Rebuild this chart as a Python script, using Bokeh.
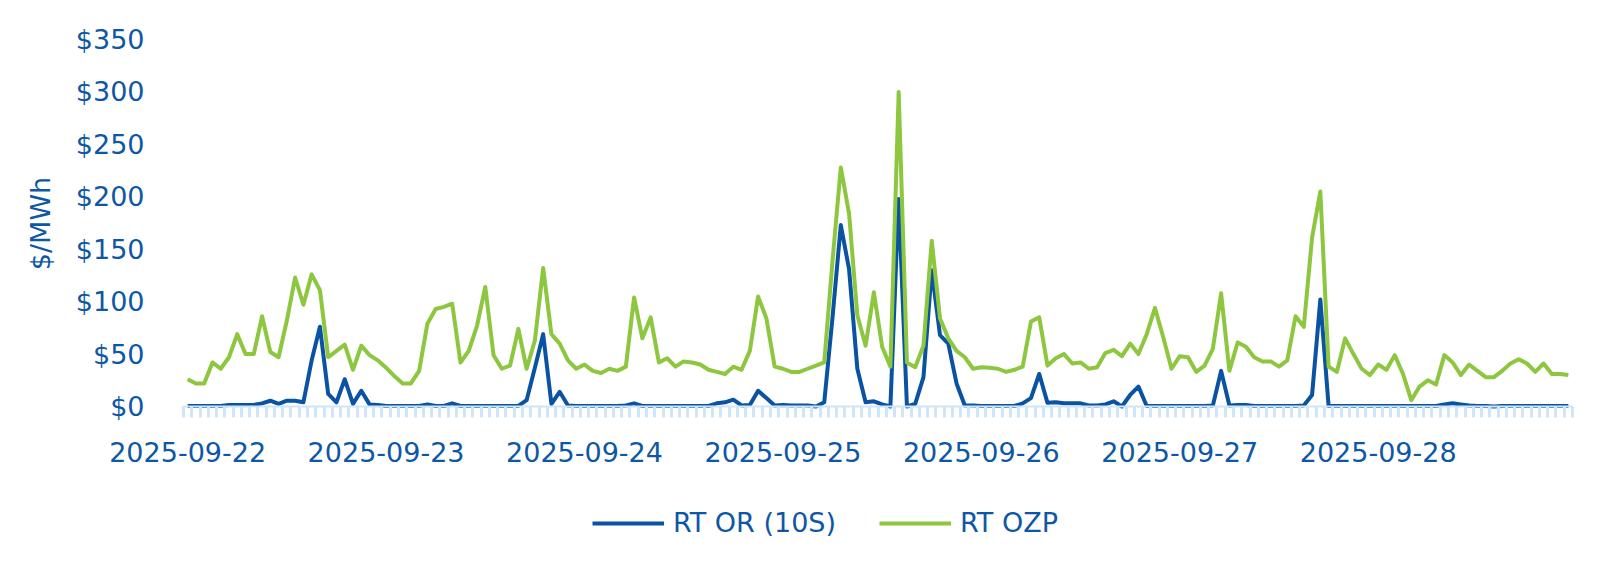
import math
from bokeh.plotting import figure
from bokeh.models import (FixedTicker, Legend, LegendItem, NumeralTickFormatter, Range1d,
                          LinearAxis, Label)
from bokeh.embed import file_html
from bokeh.resources import INLINE

# Day labels (one label every 24 hourly intervals)
dates = ["2025-09-22", "2025-09-23", "2025-09-24", "2025-09-25",
         "2025-09-26", "2025-09-27", "2025-09-28"]
y_ticks = [0, 50, 100, 150, 200, 250, 300, 350]

# RT OR (10S) $/MWh, hourly
rt_or = [
    0.5, 0.5, 0.5, 0.5, 0.5, 1.5, 1.5, 1.5, 1.5, 3, 5.5, 2.5, 5.5, 5.5, 4, 44, 76, 12, 4, 26, 2.5, 15, 2, 1.5,
    0.5, 0.5, 0.5, 0.5, 0.5, 2, 0.5, 0.5, 3, 0.5, 0.5, 0.5, 0.5, 0.5, 0.5, 0.5, 0.5, 6, 37, 69, 2.5, 14, 1, 0.5,
    0.5, 0.5, 0.5, 0.5, 0.5, 1, 3, 0.5, 0.5, 0.5, 0.5, 0.5, 0.5, 0.5, 0.5, 0.5, 3, 4, 6.5, 1, 1.5, 15, 8, 1,
    1.5, 1, 1, 1, 0, 4, 85, 173, 131, 36, 4, 5, 2, 0, 198, 0, 2.5, 28, 130, 68, 60, 22, 1, 1,
    0.5, 0.5, 0.5, 0.5, 0.5, 3, 8, 31, 3.5, 4, 3, 3, 3, 1, 1, 2, 5, 0, 11, 19, 0.5, 0.5, 0.5, 0.5,
    0.5, 0.5, 0.5, 0.5, 1, 34, 1, 1.5, 1.5, 0.5, 0.5, 0.5, 0.5, 0.5, 0.5, 1, 11, 102, 0.5, 0.5, 0.5, 0.5, 0.5, 0.5,
    0.5, 0.5, 0.5, 0.5, 0.5, 0.5, 0.5, 0.5, 2, 3, 2, 1, 0.5, 0.5, 0, 0.5, 0.5, 0.5, 0.5, 0.5, 0.5, 0.5, 0.5, 0.5,
]

# RT OZP $/MWh, hourly
rt_ozp = [
    26, 22, 22, 42, 36, 47, 69, 50, 50, 86, 52, 47, 82, 123, 97, 126, 111, 47, 53, 59, 35, 58, 49, 44,
    37, 29, 22, 22, 34, 79, 93, 95, 98, 42, 53, 77, 114, 49, 36, 39, 74, 36, 63, 132, 69, 60, 44, 36,
    40, 34, 32, 36, 34, 38, 104, 65, 85, 42, 46, 38, 43, 42, 40, 35, 33, 31, 38, 35, 53, 105, 84, 38,
    36, 33, 33, 36, 39, 42, 139, 228, 184, 87, 58, 109, 57, 38, 300, 42, 37.5, 58, 158, 84, 65, 53, 47, 36,
    37.5, 37, 36, 33, 35, 38, 81, 85, 39, 46, 50, 41, 42, 36, 37.5, 51, 54, 48, 60, 50, 69, 94, 66, 36,
    48, 47, 33, 39, 55, 108, 34, 61, 57, 47, 43, 43, 38, 44, 86, 76, 161, 205, 38, 33, 65, 50, 36, 30,
    40, 35, 49, 31, 6, 19, 25, 21, 49, 42, 30, 40, 34, 28, 28, 34, 41, 45, 41, 33, 41, 31, 31, 30,
]

hours = list(range(len(rt_or)))

TEXT = "#0E57A5"
BLUE = "#0A53A2"
GREEN = "#8DC63F"
LIGHT = "#CFE5FA"
FONT = "DejaVu Sans"
FS = "27px"

# Canvas = frame; plot area of the reference: x 183..1572 px, y 39 ($350) .. 406 ($0)
W, H = 1600, 555
LEFT, RIGHT, TOP, ZERO = 183, 1572, 39, 406
n = len(hours)
ppx = (RIGHT - LEFT) / n
x_start = -0.5 - LEFT / ppx
x_end = n - 0.5 + (W - RIGHT) / ppx
ppu = (ZERO - TOP) / 350.0
y_end = 350 + TOP / ppu
y_start = 350 - (H - TOP) / ppu

p = figure(width=W, height=H, output_backend="svg", toolbar_location=None,
           x_range=Range1d(x_start, x_end), y_range=Range1d(y_start, y_end),
           min_border_left=0, min_border_right=0, min_border_top=0, min_border_bottom=0,
           x_axis_location=None, y_axis_location=None)
p.outline_line_color = None
p.grid.visible = False
p.background_fill_color = "white"
p.border_fill_color = "white"

r1 = p.line(hours, rt_or, line_color=BLUE, line_width=4, line_join="round")
r2 = p.line(hours, rt_ozp, line_color=GREEN, line_width=4, line_join="round")

xa = LinearAxis(fixed_location=0, bounds=(-0.5, n - 0.5))
xa.ticker = FixedTicker(ticks=[24 * i for i in range(len(dates))],
                        minor_ticks=[k - 0.5 for k in range(n + 1)])
xa.major_label_overrides = {24 * i: d for i, d in enumerate(dates)}
xa.axis_line_color = LIGHT
xa.axis_line_width = 2
xa.major_tick_line_color = None
xa.major_tick_in = 0
xa.major_tick_out = 0
xa.minor_tick_line_color = LIGHT
xa.minor_tick_line_width = 3
xa.minor_tick_in = 0
xa.minor_tick_out = 11
xa.major_label_standoff = 24
xa.major_label_text_font = FONT
xa.major_label_text_font_size = FS
xa.major_label_text_color = TEXT
p.add_layout(xa, "below")

ya = LinearAxis(fixed_location=-0.5)
ya.ticker = FixedTicker(ticks=y_ticks)
ya.formatter = NumeralTickFormatter(format="$0")
ya.axis_line_color = None
ya.major_tick_line_color = None
ya.minor_tick_line_color = None
ya.major_tick_in = 0
ya.major_tick_out = 0
ya.major_label_standoff = 39
ya.major_label_text_font = FONT
ya.major_label_text_font_size = FS
ya.major_label_text_color = TEXT
p.add_layout(ya, "left")

p.add_layout(Label(x=40, y=H - 223, x_units="screen", y_units="screen", text="$/MWh",
                   angle=math.pi / 2, text_align="center", text_baseline="middle",
                   text_font=FONT, text_font_size=FS, text_color=TEXT))

legend = Legend(items=[LegendItem(label="RT OR (10S)", renderers=[r1]),
                       LegendItem(label="RT OZP", renderers=[r2])],
                orientation="horizontal", location=(592, 17),
                padding=0, margin=0, spacing=43, glyph_width=72, glyph_height=30,
                label_standoff=9, label_height=30,
                label_text_font=FONT, label_text_font_size=FS, label_text_color=TEXT,
                border_line_color=None, background_fill_alpha=0)
p.add_layout(legend, "center")

open("out.html", "w").write(file_html(p, INLINE))
